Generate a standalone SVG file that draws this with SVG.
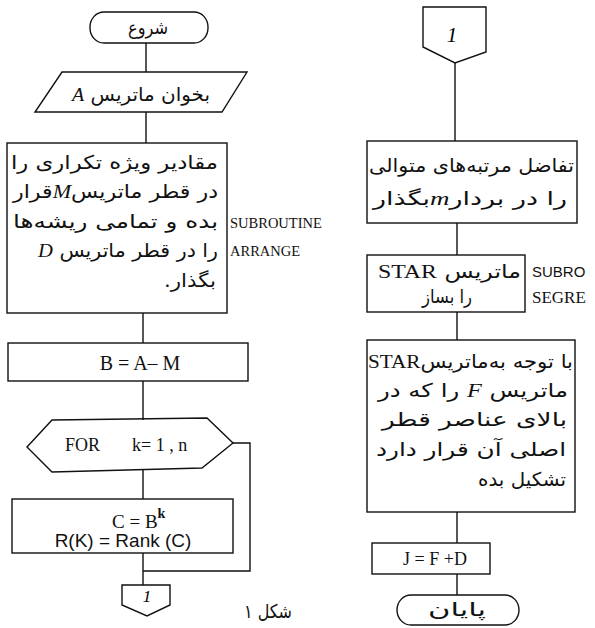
<svg xmlns="http://www.w3.org/2000/svg" width="595" height="628" viewBox="0 0 595 628">
<style>
.s{fill:none;stroke:#111;stroke-width:1.4;stroke-linejoin:miter}
.fa{font-family:"DejaVu Sans",sans-serif;font-size:19px;fill:#111}
.r{direction:rtl;text-anchor:start}
.c{text-anchor:middle}
.se{font-family:"Liberation Serif",serif;fill:#111}
.sa{font-family:"Liberation Sans",sans-serif;fill:#111}
.it{font-family:"Liberation Serif",serif;font-style:italic}
</style>
<rect width="595" height="628" fill="#fff"/>
<g id="connectors" class="s">
<path d="M146 43V72"/>
<path d="M146 112V143"/>
<path d="M143 313V343"/>
<path d="M143 381V420"/>
<path d="M143 470V499"/>
<path d="M143 553V585"/>
<path d="M233 443H250V571H143"/>
<path d="M455 63V141"/>
<path d="M457 223V255"/>
<path d="M457 312V340"/>
<path d="M457 512V543"/>
<path d="M457 574V595"/>
</g>
<g id="start">
<rect class="s" x="90" y="12" width="118" height="31" rx="14" ry="15"/>
<text class="fa c" x="148" y="34" font-size="18" textLength="40" lengthAdjust="spacingAndGlyphs">شروع</text>
</g>
<g id="read">
<path class="s" d="M62 72H247L222 112H35Z"/>
<text class="fa r" x="210" y="101" textLength="138" lengthAdjust="spacingAndGlyphs">بخوان ماتریس <tspan class="it">A</tspan></text>
</g>
<g id="eigen">
<rect class="s" x="7" y="143" width="220" height="170"/>
<text class="fa r" x="218" y="169" textLength="207" lengthAdjust="spacingAndGlyphs">مقادیر ویژه تکراری را</text>
<text class="fa r" x="218" y="198" textLength="205" lengthAdjust="spacingAndGlyphs">در قطر ماتریس<tspan class="it">M</tspan>قرار</text>
<text class="fa r" x="218" y="228" textLength="205" lengthAdjust="spacingAndGlyphs">بده و تمامی ریشه‌ها</text>
<text class="fa r" x="218" y="257" textLength="180" lengthAdjust="spacingAndGlyphs">را در قطر ماتریس <tspan class="it">D</tspan></text>
<text class="fa r" x="216" y="287" textLength="52" lengthAdjust="spacingAndGlyphs">بگذار.</text>
</g>
<g id="arrange-label">
<text class="se" x="230" y="228" font-size="14.5">SUBROUTINE</text>
<text class="se" x="230" y="256" font-size="14.5">ARRANGE</text>
</g>
<g id="bam">
<rect class="s" x="8" y="343" width="240" height="38"/>
<text class="se c" x="140" y="370" font-size="20">B = A– M</text>
</g>
<g id="for">
<path class="s" d="M52 420L207 418L233 443L202 468L52 472L27 447Z"/>
<text class="se" x="65" y="451" font-size="18">FOR</text>
<text class="se" x="132" y="451" font-size="18">k= 1 , n</text>
</g>
<g id="cbk">
<rect class="s" x="12" y="499" width="221" height="54"/>
<text class="se" x="112" y="528" font-size="19">C = B<tspan font-size="14" font-weight="bold" dy="-10">k</tspan></text>
<text class="sa c" x="123" y="547" font-size="19">R(K) = Rank  (C)</text>
</g>
<g id="off1">
<path class="s" d="M122 585H170V605L147 616L122 605Z"/>
<text class="it c" x="147" y="602" font-size="17">1</text>
</g>
<g id="on1">
<path class="s" d="M423 7H486V52L455 63L423 47Z"/>
<text class="it c" x="452" y="42" font-size="21">1</text>
</g>
<g id="diff">
<rect class="s" x="367" y="141" width="210" height="82"/>
<text class="fa r" x="574" y="172" font-size="20" textLength="205" lengthAdjust="spacingAndGlyphs">تفاضل مرتبه‌های متوالی</text>
<text class="fa r" x="567" y="205" font-size="20" textLength="194" lengthAdjust="spacingAndGlyphs">را در بردار<tspan class="it">m</tspan>بگذار</text>
</g>
<g id="star">
<rect class="s" x="367" y="255" width="158" height="57"/>
<text class="fa r" x="521" y="278" font-size="18" textLength="143" lengthAdjust="spacingAndGlyphs">ماتریس  <tspan class="se">STAR</tspan></text>
<text class="fa c" x="447" y="303" font-size="18" textLength="50" lengthAdjust="spacingAndGlyphs">را بساز</text>
</g>
<g id="segre-label">
<text class="sa" x="532" y="277" font-size="15">SUBRO</text>
<text class="se" x="532" y="303" font-size="17">SEGRE</text>
</g>
<g id="fmat">
<rect class="s" x="367" y="340" width="208" height="172"/>
<text class="fa r" x="573" y="368" textLength="205" lengthAdjust="spacingAndGlyphs">با توجه به‌ماتریس<tspan class="se">STAR</tspan></text>
<text class="fa r" x="568" y="397" textLength="190" lengthAdjust="spacingAndGlyphs">ماتریس <tspan class="it">F</tspan> را که در</text>
<text class="fa r" x="567" y="426" textLength="185" lengthAdjust="spacingAndGlyphs">بالای عناصر قطر</text>
<text class="fa r" x="566" y="456" textLength="190" lengthAdjust="spacingAndGlyphs">اصلی آن قرار دارد</text>
<text class="fa r" x="566" y="486" textLength="88" lengthAdjust="spacingAndGlyphs">تشکیل بده</text>
</g>
<g id="jfd">
<rect class="s" x="372" y="543" width="118" height="31"/>
<text class="se c" x="435" y="565" font-size="18">J = F +D</text>
</g>
<g id="end">
<rect class="s" x="397" y="595" width="122" height="30" rx="14" ry="15"/>
<text class="fa c" x="457" y="616" font-size="18" textLength="58" lengthAdjust="spacingAndGlyphs">پایان</text>
</g>
<text class="fa r" x="292" y="618" font-size="15" textLength="48" lengthAdjust="spacingAndGlyphs">شکل ۱</text>
</svg>
